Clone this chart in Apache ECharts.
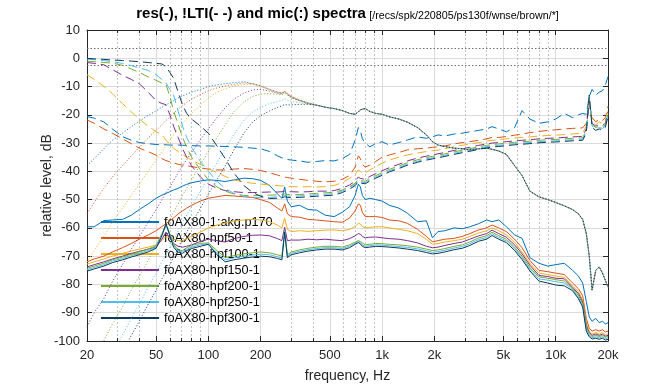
<!DOCTYPE html>
<html><head><meta charset="utf-8">
<script src="https://cdn.jsdelivr.net/npm/echarts@6/dist/echarts.min.js"></script>
<style>html,body{margin:0;padding:0;background:#fff}#c{width:672px;height:384px}</style>
</head><body><div id="c"></div>
<script>
const freqHz = [20,22,25,28,32,36,40,45,50,54,57,60,63,67,71,75,80,90,100,112,
125,140,160,180,200,225,250,265,275,285,300,335,375,420,470,530,590,650,700,730,
750,770,800,850,920,1000,1100,1250,1400,1600,1800,1950,2100,2300,2600,2900,3200,3600,4000,4300,
4700,5200,5800,6400,7100,8000,9000,10000,11200,12500,13500,14300,15000,15600,16200,17000,17800,18600,19300,20000];

const seriesNames = ['foAX80-1:akg.p170','foAX80-hpf50-1','foAX80-hpf100-1','foAX80-hpf150-1','foAX80-hpf200-1','foAX80-hpf250-1','foAX80-hpf300-1'];
const seriesColors = ['#0072BD','#D95319','#EDB120','#7E2F8E','#77AC30','#4DBEEE','#0E3A5C'];

const majorTicks = [20,50,100,200,500,1000,2000,5000,10000,20000];
const minorTicks = [30,40,60,70,80,90,300,400,600,700,800,900,3000,4000,6000,7000,8000,9000];
const yTicksMin = -100, yTicksMax = 10, yStep = 10;
const refLevels = [3.5, -2.5];

// res (solid)
const res_akg = [-59.6,-59.6,-57.4,-57.2,-57.0,-55.5,-53.5,-51.5,-49.5,-48.4,
-47.8,-47.2,-46.6,-46.0,-45.2,-44.6,-44.0,-43.4,-43.0,-43.2,
-43.6,-43.0,-42.4,-42.6,-43.2,-45.0,-48.0,-49.5,-45.5,-50.5,
-52.5,-52.0,-53.5,-53.7,-55.5,-56.0,-54.5,-52.5,-48.5,-44.5,
-45.5,-48.5,-50.0,-49.5,-50.0,-50.5,-52.0,-53.0,-54.8,-57.8,
-57.5,-63.5,-61.3,-61.0,-60.0,-60.3,-59.6,-58.5,-57.2,-57.8,
-57.2,-59.6,-62.5,-63.7,-70.5,-72.5,-73.5,-73.0,-72.5,-75.0,
-77.0,-79.5,-86.0,-91.5,-93.0,-92.0,-93.5,-93.0,-94.0,-93.5];
const res_hpf50 = [-72.0,-71.0,-70.0,-68.5,-67.0,-65.5,-64.0,-62.5,-61.0,-59.5,
-58.5,-57.5,-56.5,-55.0,-54.0,-53.0,-52.0,-50.5,-49.5,-49.0,
-48.5,-48.7,-49.0,-49.2,-50.0,-51.0,-53.0,-54.0,-51.5,-55.0,
-56.0,-56.2,-57.0,-57.2,-57.5,-57.8,-58.0,-56.5,-54.0,-51.5,
-52.0,-54.5,-56.0,-56.0,-56.0,-56.3,-57.2,-57.5,-58.4,-60.5,
-63.0,-64.9,-64.5,-64.0,-63.7,-63.0,-62.0,-60.7,-60.0,-59.0,
-60.0,-61.3,-64.0,-67.0,-71.5,-75.0,-75.5,-76.0,-76.5,-79.5,
-81.5,-84.0,-92.0,-95.5,-96.5,-96.0,-96.5,-96.0,-96.8,-96.5];
const res_hpf100 = [-72.8,-72.0,-71.0,-70.0,-69.0,-68.2,-67.5,-66.8,-66.0,-64.5,
-63.0,-63.5,-64.0,-64.5,-64.5,-63.8,-63.0,-61.5,-60.0,-59.0,
-58.2,-57.6,-57.2,-57.0,-57.2,-57.8,-59.0,-60.0,-56.5,-60.5,
-61.3,-61.0,-61.2,-61.0,-60.8,-60.7,-61.0,-60.5,-59.5,-58.4,
-58.6,-59.5,-60.0,-59.8,-59.6,-59.6,-60.0,-60.5,-61.0,-62.0,
-64.0,-65.8,-65.5,-65.0,-64.5,-64.0,-63.0,-61.8,-61.0,-60.0,
-61.0,-62.5,-65.0,-68.5,-72.5,-76.0,-76.5,-77.0,-77.5,-80.5,
-82.5,-85.5,-93.5,-96.5,-97.5,-97.0,-97.5,-97.0,-97.8,-97.5];
const res_hpf150 = [-73.8,-73.0,-72.0,-71.0,-70.0,-69.0,-68.3,-67.5,-66.8,-64.0,
-61.5,-63.5,-65.5,-66.5,-66.8,-66.5,-66.0,-64.8,-64.0,-64.5,
-65.0,-63.8,-63.0,-62.6,-62.5,-62.8,-63.8,-64.5,-59.8,-64.5,
-64.3,-64.3,-64.0,-64.2,-64.0,-64.3,-64.5,-63.8,-62.8,-62.0,
-62.2,-63.0,-63.5,-63.3,-63.2,-63.5,-63.8,-64.0,-64.5,-65.3,
-66.5,-67.0,-66.8,-66.2,-65.5,-65.0,-64.0,-62.8,-62.0,-60.8,
-62.0,-63.3,-66.0,-69.2,-73.2,-76.8,-77.2,-77.8,-78.0,-81.0,
-83.2,-86.2,-94.5,-97.0,-98.0,-97.5,-98.0,-97.6,-98.3,-98.0];
const res_hpf200 = [-74.3,-73.5,-72.5,-71.3,-70.3,-69.3,-68.5,-67.5,-66.3,-62.0,
-58.8,-62.0,-65.8,-67.8,-68.0,-67.0,-66.2,-65.5,-65.3,-68.0,
-70.5,-69.8,-69.2,-68.8,-68.5,-68.8,-69.5,-70.0,-61.0,-69.5,
-68.5,-67.8,-67.2,-66.8,-66.5,-66.5,-66.8,-66.0,-65.0,-64.5,
-64.8,-65.5,-66.0,-65.8,-65.5,-65.6,-65.8,-66.0,-66.3,-66.8,
-67.5,-68.0,-67.8,-67.3,-66.5,-66.0,-65.0,-63.5,-62.8,-61.5,
-62.8,-64.0,-66.8,-70.0,-74.0,-77.3,-77.8,-78.3,-78.8,-81.3,
-83.8,-86.8,-95.0,-97.5,-98.4,-98.0,-98.4,-98.0,-98.7,-98.4];
const res_hpf250 = [-74.8,-74.0,-73.0,-71.8,-70.8,-69.8,-69.0,-68.0,-66.8,-62.5,
-59.0,-62.5,-66.3,-68.2,-68.5,-67.5,-66.8,-66.0,-65.6,-68.8,
-71.3,-70.6,-70.0,-69.6,-69.3,-69.5,-70.2,-70.7,-61.2,-70.0,
-69.0,-68.3,-67.7,-67.3,-67.0,-67.0,-67.3,-66.5,-65.4,-64.8,
-65.2,-66.0,-66.5,-66.3,-66.0,-66.1,-66.3,-66.6,-66.9,-67.4,
-68.1,-68.6,-68.4,-67.9,-67.1,-66.6,-65.6,-64.1,-63.4,-62.1,
-63.4,-64.6,-67.4,-70.6,-74.6,-78.0,-78.5,-79.0,-79.5,-81.8,
-84.5,-87.5,-95.8,-98.0,-98.8,-98.5,-98.9,-98.5,-99.2,-98.9];
const res_hpf300 = [-75.3,-74.5,-73.5,-72.3,-71.3,-70.3,-69.5,-68.5,-67.2,-62.8,
-58.5,-62.8,-66.8,-68.7,-69.0,-68.0,-67.3,-66.5,-65.8,-69.5,
-72.0,-71.3,-70.7,-70.3,-70.0,-70.2,-70.8,-71.3,-61.5,-70.5,
-69.5,-68.8,-68.2,-67.8,-67.5,-67.5,-67.8,-67.0,-65.8,-65.2,
-65.6,-66.5,-67.0,-66.8,-66.5,-66.6,-66.8,-67.1,-67.5,-68.0,
-68.7,-69.2,-69.0,-68.5,-67.7,-67.2,-66.2,-64.7,-64.0,-62.7,
-64.0,-65.2,-68.0,-71.2,-75.2,-78.8,-79.5,-80.2,-80.5,-82.2,
-85.0,-88.0,-96.5,-98.5,-99.3,-99.0,-99.4,-99.0,-99.7,-99.4];

// !LTI (dashed)
const lti_akg = [-20.6,-21.2,-22.5,-25.0,-27.7,-29.0,-29.8,-30.2,-30.5,-30.6,
-30.6,-30.7,-30.7,-30.7,-30.8,-30.8,-30.9,-31.0,-31.0,-31.1,
-31.2,-31.3,-31.5,-31.8,-32.0,-33.0,-34.5,-35.2,-35.5,-35.8,
-36.0,-36.3,-36.8,-36.5,-36.2,-36.3,-35.5,-34.0,-29.0,-24.5,
-25.5,-28.5,-30.0,-31.3,-30.2,-29.5,-30.7,-29.8,-28.9,-27.8,
-28.3,-27.8,-27.1,-27.5,-26.8,-26.5,-26.0,-25.5,-25.0,-24.2,
-25.0,-26.0,-24.5,-18.5,-21.5,-23.0,-22.5,-21.5,-19.5,-21.0,
-20.0,-19.5,-19.8,-13.5,-11.0,-13.0,-12.0,-11.5,-9.5,-6.5];
const lti_hpf50 = [-21.8,-23.0,-25.0,-26.5,-28.5,-30.2,-31.8,-33.0,-34.3,-35.5,
-36.2,-36.6,-37.0,-37.5,-37.8,-38.0,-38.3,-38.8,-39.2,-39.5,
-39.5,-39.2,-39.0,-39.3,-39.7,-40.5,-41.3,-41.8,-42.0,-42.2,
-42.4,-42.8,-43.2,-43.5,-43.7,-43.5,-42.8,-41.5,-38.5,-34.5,
-35.5,-37.5,-38.5,-37.8,-36.5,-35.0,-34.2,-33.3,-32.4,-32.0,
-31.8,-31.5,-31.3,-31.0,-30.3,-29.8,-29.5,-29.0,-28.5,-28.0,
-28.0,-27.7,-27.2,-26.8,-26.3,-25.9,-25.5,-25.3,-25.0,-24.8,
-24.7,-24.6,-23.0,-16.0,-21.0,-22.5,-21.5,-22.0,-21.0,-17.0];
const lti_hpf100 = [-5.8,-7.5,-9.9,-12.5,-16.0,-19.0,-21.5,-24.0,-26.0,-27.0,
-29.0,-30.5,-31.8,-33.0,-34.0,-35.0,-36.0,-37.5,-39.0,-40.5,
-41.8,-43.0,-43.8,-44.2,-44.5,-44.8,-45.0,-45.2,-45.0,-45.3,
-45.4,-45.5,-45.4,-45.5,-45.4,-45.0,-44.0,-42.5,-41.0,-39.5,
-40.0,-40.8,-40.6,-39.5,-38.3,-37.1,-36.0,-35.0,-34.2,-33.5,
-33.0,-32.7,-32.5,-32.0,-31.3,-30.8,-30.3,-29.8,-29.3,-29.0,
-28.8,-28.5,-28.2,-28.0,-27.8,-27.5,-27.3,-27.2,-27.0,-26.8,
-26.6,-26.5,-24.0,-15.0,-22.0,-23.5,-22.5,-23.0,-22.0,-18.0];
const lti_hpf150 = [-1.5,-1.8,-2.3,-4.0,-6.0,-7.5,-9.0,-12.0,-15.0,-16.0,
-16.4,-20.0,-24.0,-28.0,-32.0,-35.0,-38.0,-42.0,-44.5,-46.0,
-46.8,-47.2,-47.5,-47.5,-47.4,-47.3,-47.3,-47.2,-47.0,-47.2,
-47.2,-47.3,-47.2,-47.0,-47.0,-46.8,-46.0,-44.8,-43.5,-42.0,
-42.5,-43.0,-42.8,-41.8,-40.8,-39.8,-38.7,-37.5,-36.3,-35.3,
-34.6,-34.2,-33.8,-33.3,-32.6,-32.0,-31.5,-30.8,-30.3,-30.0,
-29.8,-29.5,-29.2,-29.0,-28.8,-28.5,-28.3,-28.2,-28.0,-27.8,
-27.7,-27.6,-25.0,-14.5,-23.0,-24.0,-23.5,-23.8,-23.0,-19.0];
const lti_hpf200 = [-1.0,-1.2,-1.5,-1.7,-2.5,-3.8,-5.0,-6.6,-7.8,-8.8,
-9.3,-13.5,-18.5,-23.5,-28.0,-31.5,-35.0,-39.5,-43.0,-45.5,
-47.0,-48.0,-48.5,-48.6,-48.5,-48.4,-48.3,-48.2,-48.0,-48.2,
-48.3,-48.2,-48.0,-47.8,-47.6,-47.4,-46.6,-45.4,-44.2,-42.8,
-43.3,-43.8,-43.5,-42.5,-41.5,-40.5,-39.3,-38.1,-36.9,-35.9,
-35.1,-34.7,-34.3,-33.8,-33.1,-32.5,-32.0,-31.3,-30.8,-30.5,
-30.3,-30.0,-29.7,-29.5,-29.3,-29.0,-28.8,-28.7,-28.5,-28.3,
-28.2,-28.1,-25.5,-14.0,-23.5,-24.5,-24.0,-24.3,-23.5,-19.5];
const lti_hpf250 = [-0.3,-0.5,-0.8,-1.2,-1.8,-2.6,-3.4,-4.3,-5.8,-7.5,
-8.7,-11.0,-12.9,-18.7,-24.0,-28.0,-31.5,-36.5,-40.0,-43.5,
-46.0,-47.8,-48.8,-49.2,-49.3,-49.2,-49.0,-48.8,-48.5,-48.7,
-48.8,-48.7,-48.5,-48.3,-48.1,-47.9,-47.0,-45.8,-44.6,-43.2,
-43.7,-44.2,-44.0,-43.0,-42.0,-41.0,-39.8,-38.6,-37.4,-36.4,
-35.6,-35.2,-34.8,-34.3,-33.6,-33.0,-32.5,-31.8,-31.3,-31.0,
-30.8,-30.5,-30.2,-30.0,-29.8,-29.5,-29.3,-29.2,-29.0,-28.8,
-28.7,-28.6,-26.0,-13.5,-24.0,-25.0,-24.5,-24.8,-24.0,-20.0];
const lti_hpf300 = [0.0,-0.2,-0.4,-0.6,-0.8,-1.0,-1.2,-1.5,-1.8,-2.0,
-3.0,-5.0,-7.0,-12.0,-16.5,-19.5,-21.5,-24.0,-26.5,-31.0,
-35.5,-40.5,-45.0,-47.5,-48.8,-49.6,-49.5,-49.3,-49.0,-49.2,
-49.3,-49.2,-49.0,-48.8,-48.6,-48.4,-47.5,-46.3,-45.0,-43.6,
-44.1,-44.6,-44.4,-43.4,-42.4,-41.4,-40.2,-39.0,-37.8,-36.8,
-36.0,-35.6,-35.2,-34.7,-34.0,-33.4,-32.9,-32.2,-31.7,-31.4,
-31.2,-30.9,-30.6,-30.4,-30.2,-29.9,-29.7,-29.6,-29.4,-29.2,
-29.1,-29.0,-26.5,-13.0,-24.5,-25.5,-25.0,-25.3,-24.5,-20.5];

// mic (dotted): low-frequency parts (20..375 Hz) differ, above that all curves coincide
const mic_akg_low = [-38,-35.5,-32,-29,-26.5,-24.2,-22.2,-20.2,-18.6,-17.3,-16.5,-15.7,-15,-14,-13.3,-12.7,-12,-11,-10,-9.4,-9,-8.6,-8.3,-9,-9.8,-11,-12,-12.3,-11.7,-12.5,-13.5,-14.8,-15.8];
const mic_hpf50_low = [-55,-51,-46,-42,-38,-34.5,-31.5,-28.2,-25.5,-23.5,-22,-20.8,-19.5,-18,-16.7,-15.6,-14.5,-12.8,-11.5,-10.5,-9.8,-9.2,-8.7,-9,-9.8,-11,-12,-12.3,-11.7,-12.5,-13.5,-14.8,-15.8];
const mic_hpf100_low = [-72,-68,-63,-58,-53,-48.5,-44.5,-40,-36,-33,-31,-29,-27,-25,-23,-21.3,-19.5,-16.5,-14,-12,-10.8,-9.8,-9.3,-9.3,-10,-11.1,-12.1,-12.4,-11.8,-12.6,-13.6,-14.9,-15.9];
const mic_hpf150_low = [-95,-90,-85,-79,-73,-67.5,-63,-58,-53.5,-50,-47.5,-45.5,-43.3,-40.5,-38,-35.8,-33.3,-28.8,-25,-21,-17.5,-14.5,-12.3,-11.2,-11,-11.6,-12.4,-12.6,-12,-12.8,-13.8,-15,-16];
const mic_hpf200_low = [-110,-105,-100,-94,-88,-82,-77,-71.5,-66,-62,-59.5,-57,-54.5,-51.5,-48.5,-46,-43,-37.5,-33,-28,-23.5,-19,-15.5,-13.5,-12.7,-12.5,-12.8,-12.9,-12.3,-13,-14,-15.1,-16];
const mic_hpf250_low = [-120,-115,-110,-104,-98,-92,-87,-81,-76,-72,-69.5,-67,-64.5,-61,-58,-55.5,-52.5,-47,-42,-37,-32,-27,-22,-19,-17.3,-16,-15.3,-14.9,-14.3,-14.8,-15.2,-15.7,-16.1];
const mic_hpf300_low = [-125,-120,-116,-110,-104,-98,-93,-87,-82,-78,-75.5,-73,-70.5,-67,-64,-61.5,-58.5,-53,-48,-43,-38,-32.5,-26.5,-22.5,-20.3,-18.6,-17.4,-16.8,-16.4,-16.5,-16.5,-16.3,-16.3];
const mic_high = [-16.6,-17.3,-17.8,-18.5,-19.5,-19.8,-19.0,-18.2,-17.7,-17.8,
-18.8,-19.5,-19.8,-20.7,-21.5,-22.6,-24.5,-27.1,-29.5,-30.7,
-31.2,-31.8,-32.0,-32.4,-32.0,-31.8,-32.2,-32.8,-34.0,-38.0,
-41.5,-47.0,-49.0,-50.0,-51.0,-52.2,-53.5,-55.0,-57.0,-62.0,
-70.0,-82.0,-75.0,-73.8,-76.0,-78.5,-81.0];

const resSets = [res_akg,res_hpf50,res_hpf100,res_hpf150,res_hpf200,res_hpf250,res_hpf300];
const ltiSets = [lti_akg,lti_hpf50,lti_hpf100,lti_hpf150,lti_hpf200,lti_hpf250,lti_hpf300];
const micSets = [mic_akg_low,mic_hpf50_low,mic_hpf100_low,mic_hpf150_low,mic_hpf200_low,mic_hpf250_low,mic_hpf300_low].map(a => a.concat(mic_high));

const FONT = '"Liberation Sans", Arial, Helvetica, sans-serif';
const AX = '#262626';
const pair = arr => freqHz.map((f, i) => [f, arr[i]]);
const fmtF = v => v >= 1000 ? (v / 1000) + 'k' : String(v);

const series = [];
for (let i = 0; i < 7; i++) {
  const base = {type: 'line', symbol: 'none', showSymbol: false, silent: true, clip: true,
    animation: false, emphasis: {disabled: true}, color: seriesColors[i], z: 3 + i};
  series.push(Object.assign({}, base, {name: seriesNames[i], data: pair(resSets[i]),
    lineStyle: {width: 1, color: seriesColors[i], type: 'solid'}}));
  series.push(Object.assign({}, base, {name: seriesNames[i] + ' !LTI', data: pair(ltiSets[i]),
    lineStyle: {width: 1, color: seriesColors[i], type: [9, 5]}}));
  series.push(Object.assign({}, base, {name: seriesNames[i] + ' mic', data: pair(micSets[i]),
    lineStyle: {width: 1, color: seriesColors[i], type: [1, 2]}}));
}
series[0].markLine = {silent: true, symbol: 'none', animation: false,
  label: {show: false}, lineStyle: {color: '#707070', type: [1.5, 2], width: 1},
  data: refLevels.map(v => ({yAxis: v}))};

const xCommon = {type: 'log', logBase: 10, min: 20, max: 20000, gridIndex: 0};
const option = {
  animation: false,
  backgroundColor: '#ffffff',
  grid: {left: 87, right: 64, top: 30, bottom: 43, containLabel: false, outerBoundsMode: 'none'},
  graphic: [{type: 'text', x: 347.5, y: 14, silent: true,
    style: {text: '{b|res(-), !LTI(- -) and mic(:) spectra} {s|[/recs/spk/220805/ps130f/wnse/brown/*]}',
      align: 'center', verticalAlign: 'middle',
      rich: {b: {fontSize: 15, fontWeight: 'bold', fontFamily: FONT, fill: '#000'},
             s: {fontSize: 10.7, fontFamily: FONT, fill: '#000', verticalAlign: 'bottom'}}}}],
  legend: {data: seriesNames, orient: 'vertical', left: 100, top: 215, itemWidth: 58, itemHeight: 14,
    itemGap: 2, padding: 0, selectedMode: false, inactiveColor: '#000',
    itemStyle: {opacity: 0, borderWidth: 0},
    textStyle: {fontSize: 12.7, color: '#000', fontFamily: FONT, lineHeight: 14}},
  xAxis: [
    Object.assign({}, xCommon, {position: 'bottom',
      axisLine: {show: true, onZero: false, lineStyle: {color: AX, width: 1}},
      axisTick: {show: true, inside: true, length: 5, customValues: majorTicks, lineStyle: {color: AX}},
      axisLabel: {show: true, customValues: majorTicks, formatter: fmtF, color: AX, fontSize: 13, fontFamily: FONT, margin: 8},
      splitLine: {show: true, lineStyle: {color: '#dcdcdc', width: 1}},
      minorTick: {show: false}, minorSplitLine: {show: false},
      name: 'frequency, Hz', nameLocation: 'middle', nameGap: 28, nameMoveOverlap: false,
      nameTextStyle: {fontSize: 14, color: AX, fontFamily: FONT}}),
    Object.assign({}, xCommon, {position: 'bottom',
      axisLine: {show: false, onZero: false},
      axisTick: {show: true, inside: true, length: 3, customValues: minorTicks, lineStyle: {color: AX}},
      axisLabel: {show: false},
      splitLine: {show: true, lineStyle: {color: '#c4c4c4', width: 1, type: [2, 2]}}}),
    Object.assign({}, xCommon, {position: 'top',
      axisLine: {show: true, onZero: false, lineStyle: {color: AX, width: 1}},
      axisTick: {show: true, inside: true, length: 5, customValues: majorTicks, lineStyle: {color: AX}},
      axisLabel: {show: false}, splitLine: {show: false}}),
    Object.assign({}, xCommon, {position: 'top',
      axisLine: {show: false, onZero: false},
      axisTick: {show: true, inside: true, length: 3, customValues: minorTicks, lineStyle: {color: AX}},
      axisLabel: {show: false}, splitLine: {show: false}})
  ],
  yAxis: [
    {type: 'value', min: yTicksMin, max: yTicksMax, interval: yStep, position: 'left', gridIndex: 0,
      axisLine: {show: true, onZero: false, lineStyle: {color: AX, width: 1}},
      axisTick: {show: true, inside: true, length: 5, lineStyle: {color: AX}},
      axisLabel: {color: AX, fontSize: 13, fontFamily: FONT, margin: 7},
      splitLine: {show: true, lineStyle: {color: '#dcdcdc', width: 1}},
      name: 'relative level, dB', nameLocation: 'middle', nameGap: 33, nameMoveOverlap: false,
      nameTextStyle: {fontSize: 14, color: AX, fontFamily: FONT}},
    {type: 'value', min: yTicksMin, max: yTicksMax, interval: yStep, position: 'right', gridIndex: 0,
      axisLine: {show: true, onZero: false, lineStyle: {color: AX, width: 1}},
      axisTick: {show: true, inside: true, length: 5, lineStyle: {color: AX}},
      axisLabel: {show: false}, splitLine: {show: false}}
  ],
  series: series
};
const chart = echarts.init(document.getElementById('c'), null, {renderer: 'canvas', width: 672, height: 384});
chart.setOption(option);
</script>
</body></html>
